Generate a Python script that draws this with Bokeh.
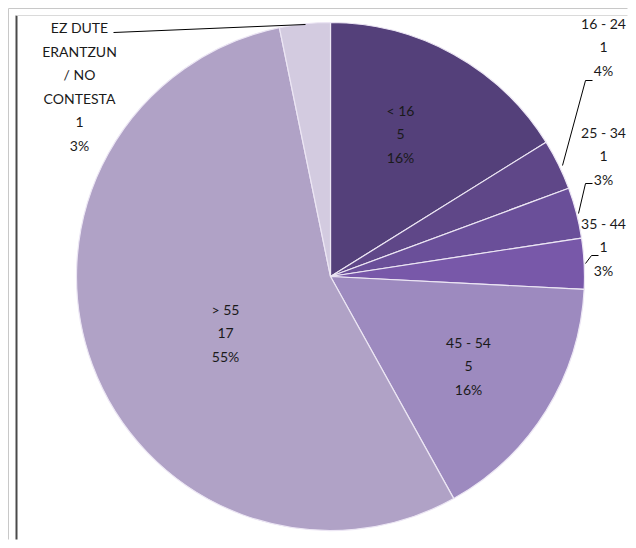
import math
from bokeh.plotting import figure
from bokeh.models import Range1d
from bokeh.core.properties import value
from bokeh.embed import file_html
from bokeh.resources import INLINE

# ---- data ----
categories = ["< 16", "16 - 24", "25 - 34", "35 - 44", "45 - 54", "> 55",
              "EZ DUTE\nERANTZUN\n/ NO\nCONTESTA"]
counts = [5, 1, 1, 1, 5, 17, 1]
percents = [16, 4, 3, 3, 16, 55, 3]
colors = ["#54407a", "#5f4788", "#6a4f99", "#7858a9", "#9d8abf", "#b0a2c6", "#d3cbe0"]

W, H = 628, 540
p = figure(width=W, height=H, output_backend="svg", toolbar_location=None,
           x_range=Range1d(0, W), y_range=Range1d(0, H), min_border=0)
p.axis.visible = False
p.grid.visible = False
p.outline_line_color = None
p.background_fill_color = "white"


def Y(ypix):
    return H - ypix


# outer frame (light gray)
p.line([8, 8, 627], [Y(539), Y(8), Y(8)], line_color="#c8c8c8", line_width=1)
# inner frame
p.line([16, 16], [Y(15), Y(539)], line_color="#4a4a4a", line_width=2)
p.line([16, 627], [Y(15), Y(15)], line_color="#dadada", line_width=1)

# pie
cx, cy, r = 330, Y(276), 254
total = sum(counts)
cum = 0
starts, ends = [], []
for c in counts:
    starts.append(math.pi / 2 - 2 * math.pi * cum / total)
    cum += c
    ends.append(math.pi / 2 - 2 * math.pi * cum / total)

p.wedge(x=[cx] * len(counts), y=[cy] * len(counts), radius=r,
        start_angle=starts, end_angle=ends, direction="clock",
        fill_color=colors, line_color="#ece6f4", line_width=1.2)

# labels
anchors = [(400, 110), (603, 23), (603, 132), (603, 223), (468, 342), (225, 309), (79, 27)]
step = 23.6
xs, ys, texts = [], [], []
for cat, n, pc, (ax, ay) in zip(categories, counts, percents, anchors):
    lines = cat.split("\n") + [str(n), f"{pc}%"]
    for i, t in enumerate(lines):
        xs.append(ax)
        ys.append(Y(ay + i * step))
        texts.append(t)
p.text(x=xs, y=ys, text=texts, text_align="center", text_baseline="middle",
       text_font=value("Lato"), text_font_size="14px", text_color="#1a1a1a")

# leader lines
leaders = [
    [(592, 80), (585, 80), (562, 165)],
    [(592, 183), (585, 183), (578, 213)],
    [(598, 255), (591, 255), (585, 263)],
    [(113, 32), (305, 24)],
]
for pts in leaders:
    p.line([a for a, b in pts], [Y(b) for a, b in pts], line_color="black", line_width=1)

open("out.html", "w").write(file_html(p, INLINE))
